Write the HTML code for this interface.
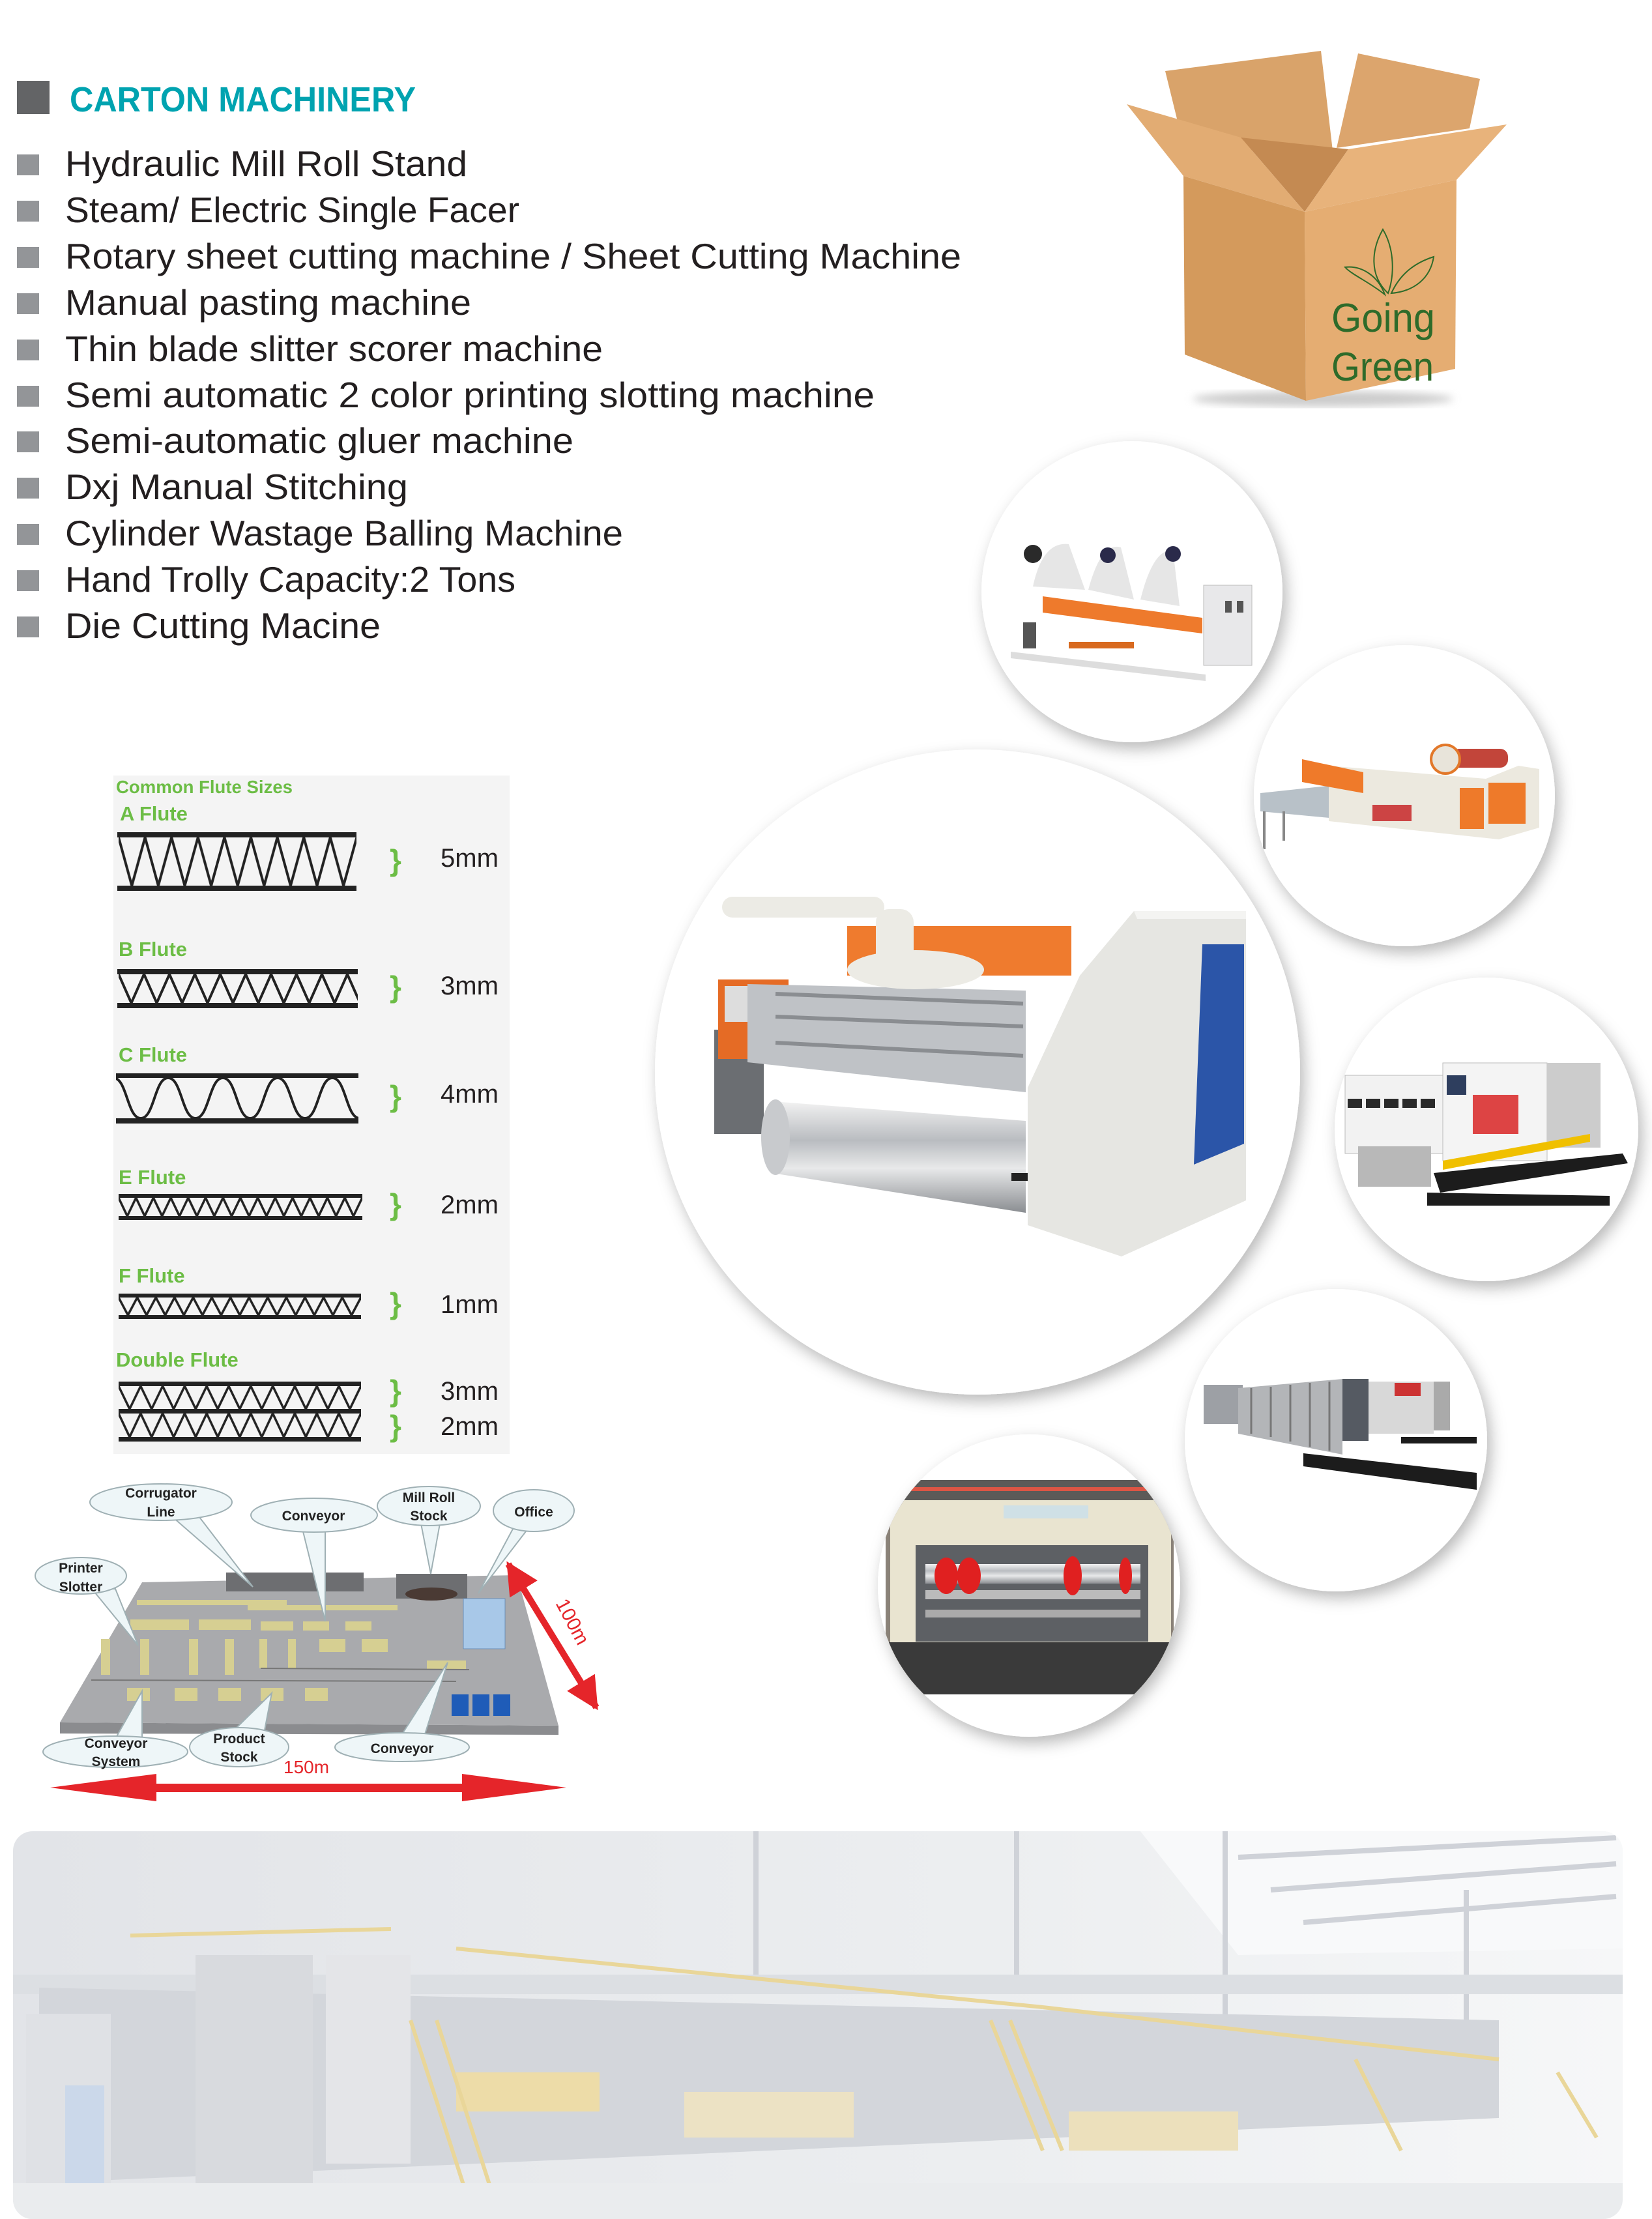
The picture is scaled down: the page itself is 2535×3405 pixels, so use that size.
<!DOCTYPE html>
<html><head><meta charset="utf-8"><style>html,body{margin:0;padding:0;background:#fff}svg{display:block}</style></head>
<body>
<svg xmlns="http://www.w3.org/2000/svg" width="2535" height="3405" viewBox="0 0 2535 3405" font-family="'Liberation Sans', sans-serif">
<defs>
<filter id="sh" x="-20%" y="-20%" width="140%" height="140%"><feDropShadow dx="6" dy="10" stdDeviation="12" flood-color="#000" flood-opacity="0.28"/></filter>
<filter id="bl"><feGaussianBlur stdDeviation="6"/></filter>
<clipPath id="c1"><circle cx="1737" cy="908" r="231"/></clipPath>
<clipPath id="c2"><circle cx="2155" cy="1221" r="231"/></clipPath>
<clipPath id="c3"><circle cx="1500" cy="1645" r="495"/></clipPath>
<clipPath id="c4"><circle cx="2281" cy="1733" r="233"/></clipPath>
<clipPath id="c5"><circle cx="2050" cy="2210" r="232"/></clipPath>
<clipPath id="c6"><circle cx="1579" cy="2433" r="232"/></clipPath>
<clipPath id="fac"><rect x="20" y="2810" width="2470" height="595" rx="30"/></clipPath>
<linearGradient id="silver" x1="0" y1="0" x2="0" y2="1"><stop offset="0" stop-color="#f2f2f2"/><stop offset=".35" stop-color="#b9bcc0"/><stop offset=".6" stop-color="#e8e9ea"/><stop offset="1" stop-color="#8a8d91"/></linearGradient>
<linearGradient id="facg" x1="0" y1="0" x2="1" y2="0"><stop offset="0" stop-color="#e2e4e8"/><stop offset=".6" stop-color="#eceef0"/><stop offset="1" stop-color="#f6f7f8"/></linearGradient>
<pattern id="pA" patternUnits="userSpaceOnUse" x="182" y="1285" width="40.6" height="74"><path d="M0,0 L20.3,74 L40.6,0" fill="none" stroke="#222" stroke-width="4"/></pattern>
<pattern id="pB" patternUnits="userSpaceOnUse" x="182" y="1495" width="39" height="44"><path d="M0,0 L19.5,44 L39,0" fill="none" stroke="#222" stroke-width="4"/></pattern>
<pattern id="pC" patternUnits="userSpaceOnUse" x="174" y="1654" width="84" height="62"><path d="M0,0 C21,0 21,62 42,62 C63,62 63,0 84,0" fill="none" stroke="#222" stroke-width="4"/></pattern>
<pattern id="pE" patternUnits="userSpaceOnUse" x="182" y="1838" width="26.7" height="28"><path d="M0,0 L13.3,28 L26.7,0" fill="none" stroke="#222" stroke-width="3.5"/></pattern>
<pattern id="pF" patternUnits="userSpaceOnUse" x="182" y="1991" width="28.6" height="27"><path d="M0,0 L14.3,27 L28.6,0" fill="none" stroke="#222" stroke-width="3.5"/></pattern>
<pattern id="pD1" patternUnits="userSpaceOnUse" x="182" y="2127" width="33.8" height="35"><path d="M0,0 L16.9,35 L33.8,0" fill="none" stroke="#222" stroke-width="3.5"/></pattern>
<pattern id="pD2" patternUnits="userSpaceOnUse" x="182" y="2169" width="33.8" height="36"><path d="M0,0 L16.9,36 L33.8,0" fill="none" stroke="#222" stroke-width="3.5"/></pattern>
<marker id="ah" viewBox="0 0 10 10" refX="9" refY="5" markerWidth="5" markerHeight="5" orient="auto-start-reverse"><path d="M0,0 L10,5 L0,10 z" fill="#e5252a"/></marker>
</defs>

<!-- Header -->
<rect x="26" y="124" width="50" height="51" fill="#636466"/>
<text x="107" y="171" font-size="54" font-weight="bold" fill="#00a3b0" textLength="531" lengthAdjust="spacingAndGlyphs">CARTON MACHINERY</text>
<g fill="#939598">
<rect x="26" y="237" width="34" height="32"/><rect x="26" y="308" width="34" height="32"/><rect x="26" y="379" width="34" height="32"/><rect x="26" y="450" width="34" height="32"/><rect x="26" y="521" width="34" height="32"/><rect x="26" y="592" width="34" height="32"/><rect x="26" y="662" width="34" height="32"/><rect x="26" y="733" width="34" height="32"/><rect x="26" y="804" width="34" height="32"/><rect x="26" y="875" width="34" height="32"/><rect x="26" y="946" width="34" height="32"/>
</g>
<g font-size="55" fill="#231f20">
<text x="100" y="270" textLength="617" lengthAdjust="spacingAndGlyphs">Hydraulic Mill Roll Stand</text>
<text x="100" y="341" textLength="697" lengthAdjust="spacingAndGlyphs">Steam/ Electric Single Facer</text>
<text x="100" y="412" textLength="1375" lengthAdjust="spacingAndGlyphs">Rotary sheet cutting machine / Sheet Cutting Machine</text>
<text x="100" y="483" textLength="623" lengthAdjust="spacingAndGlyphs">Manual pasting machine</text>
<text x="100" y="554" textLength="825" lengthAdjust="spacingAndGlyphs">Thin blade slitter scorer machine</text>
<text x="100" y="625" textLength="1242" lengthAdjust="spacingAndGlyphs">Semi automatic 2 color printing slotting machine</text>
<text x="100" y="695" textLength="780" lengthAdjust="spacingAndGlyphs">Semi-automatic gluer machine</text>
<text x="100" y="766" textLength="526" lengthAdjust="spacingAndGlyphs">Dxj Manual Stitching</text>
<text x="100" y="837" textLength="856" lengthAdjust="spacingAndGlyphs">Cylinder Wastage Balling Machine</text>
<text x="100" y="908" textLength="691" lengthAdjust="spacingAndGlyphs">Hand Trolly Capacity:2 Tons</text>
<text x="100" y="979" textLength="484" lengthAdjust="spacingAndGlyphs">Die Cutting Macine</text>
</g>

<!-- Box -->
<ellipse cx="2030" cy="612" rx="200" ry="12" fill="#ccc" filter="url(#bl)"/>
<polygon points="1788,109 2027,78 2045,231 1818,231" fill="#d9a36a"/>
<polygon points="2084,82 2271,121 2255,197 2051,227" fill="#dca56d"/>
<polygon points="1904,211 2069,229 2002,325" fill="#c48a52"/>
<polygon points="1729,160 1904,211 2002,325 1816,270" fill="#e2ac73"/>
<polygon points="2002,325 2069,229 2312,191 2235,276" fill="#e8b37b"/>
<polygon points="1816,270 2002,325 2004,615 1818,544" fill="#d49a5c"/>
<polygon points="2002,325 2235,276 2233,566 2004,615" fill="#e5ad72"/>
<g fill="none" stroke="#2e6b2a" stroke-width="2" transform="translate(0,-38)">
<path d="M2130,488 C2100,460 2105,420 2122,390 C2140,420 2140,460 2130,488 Z"/>
<path d="M2135,488 C2150,455 2175,440 2200,432 C2195,465 2170,485 2135,488 Z"/>
<path d="M2125,490 C2100,470 2075,460 2064,448 C2090,445 2115,462 2125,490 Z"/>
</g>
<text x="2043" y="509" font-size="62" fill="#2e6b2a" textLength="159" lengthAdjust="spacingAndGlyphs">Going</text>
<text x="2043" y="584" font-size="62" fill="#2e6b2a" textLength="157" lengthAdjust="spacingAndGlyphs">Green</text>

<!-- Circles backgrounds -->
<g fill="#fff" filter="url(#sh)">
<circle cx="1737" cy="908" r="231"/>
<circle cx="2155" cy="1221" r="231"/>
<circle cx="2281" cy="1733" r="233"/>
<circle cx="2050" cy="2210" r="232"/>
<circle cx="1579" cy="2433" r="232"/>
<circle cx="1500" cy="1645" r="495"/>
</g>

<!-- Circle 1 -->
<g clip-path="url(#c1)">
<polygon points="1551,1000 1850,1035 1850,1045 1551,1010" fill="#ddd"/>
<polygon points="1600,915 1845,948 1845,972 1600,940" fill="#ee7a2c"/>
<path d="M1585,900 Q1600,830 1640,835 L1665,905 Z" fill="#e6e6e6"/>
<path d="M1670,905 Q1690,830 1720,840 L1740,920 Z" fill="#e6e6e6"/>
<path d="M1750,920 Q1770,840 1800,845 L1810,930 Z" fill="#e6e6e6"/>
<circle cx="1585" cy="850" r="14" fill="#2a2a2a"/>
<circle cx="1700" cy="852" r="12" fill="#2a2a4a"/>
<circle cx="1800" cy="850" r="12" fill="#2a2a4a"/>
<rect x="1570" y="955" width="20" height="40" fill="#555"/>
<rect x="1847" y="898" width="74" height="123" fill="#e8e8ea" stroke="#bbb"/>
<rect x="1880" y="922" width="10" height="18" fill="#555"/><rect x="1898" y="922" width="10" height="18" fill="#555"/>
<rect x="1640" y="985" width="100" height="10" fill="#d86a20"/>
</g>

<!-- Circle 2 -->
<g clip-path="url(#c2)">
<polygon points="1934,1217 2092,1200 2092,1260 1934,1245" fill="#b8c1c8"/>
<line x1="1940" y1="1245" x2="1940" y2="1303" stroke="#888" stroke-width="4"/>
<line x1="1970" y1="1245" x2="1970" y2="1290" stroke="#888" stroke-width="4"/>
<polygon points="2039,1175 2280,1195 2330,1175 2362,1180 2362,1270 2300,1288 2039,1260" fill="#ece9df"/>
<polygon points="1998,1165 2092,1185 2092,1217 1998,1200" fill="#ef7a2a"/>
<rect x="2227" y="1149" width="87" height="29" rx="12" fill="#c2453a"/>
<circle cx="2218" cy="1165" r="22" fill="#e8e4da" stroke="#e2782a" stroke-width="4"/>
<rect x="2240" y="1209" width="37" height="63" fill="#ee7a2a"/>
<rect x="2284" y="1201" width="57" height="63" fill="#ee7a2a"/>
<rect x="2106" y="1235" width="60" height="25" fill="#c44"/>
</g>

<!-- Circle 3 -->
<g clip-path="url(#c3)">
<rect x="1300" y="1421" width="344" height="76" fill="#ef7b2e"/>
<rect x="1096" y="1580" width="76" height="160" fill="#6b6e72"/>
<rect x="1102" y="1503" width="108" height="122" fill="#e56b25"/>
<rect x="1112" y="1513" width="35" height="55" fill="#ddd"/>
<polygon points="1147,1510 1574,1520 1574,1676 1147,1630" fill="#bfc2c6"/>
<g stroke="#8a8d91" stroke-width="6">
<line x1="1190" y1="1525" x2="1570" y2="1540"/><line x1="1190" y1="1560" x2="1570" y2="1575"/><line x1="1190" y1="1600" x2="1570" y2="1620"/>
</g>
<rect x="1108" y="1376" width="249" height="32" rx="16" fill="#ecebe5"/>
<rect x="1344" y="1395" width="58" height="90" rx="20" fill="#ecebe5"/>
<ellipse cx="1405" cy="1488" rx="105" ry="30" fill="#ecebe5"/>
<polygon points="1185,1690 1574,1720 1574,1861 1185,1800" fill="url(#silver)"/>
<ellipse cx="1190" cy="1745" rx="22" ry="58" fill="#c8cacd"/>
<polygon points="1577,1669 1657,1497 1740,1398 1912,1398 1912,1842 1721,1928 1577,1880" fill="#e6e6e2"/>
<polygon points="1740,1398 1912,1398 1912,1410 1745,1410" fill="#f4f4f2"/>
<polygon points="1845,1449 1909,1449 1909,1755 1832,1787" fill="#2b55a8"/>
<rect x="1552" y="1800" width="25" height="12" fill="#222"/>
</g>

<!-- Circle 4 -->
<g clip-path="url(#c4)">
<polygon points="2200,1800 2490,1770 2498,1785 2210,1830" fill="#1c1c1c"/>
<polygon points="2190,1830 2470,1835 2470,1850 2190,1850" fill="#1c1c1c"/>
<rect x="2064" y="1650" width="150" height="120" fill="#f2f2f2" stroke="#bbb"/>
<g fill="#2a2a2a"><rect x="2068" y="1686" width="22" height="14"/><rect x="2096" y="1686" width="22" height="14"/><rect x="2124" y="1686" width="22" height="14"/><rect x="2152" y="1686" width="22" height="14"/><rect x="2180" y="1686" width="22" height="14"/></g>
<rect x="2084" y="1759" width="112" height="62" fill="#b8b8b8"/>
<rect x="2214" y="1631" width="160" height="150" fill="#f4f4f4" stroke="#bbb"/>
<rect x="2220" y="1650" width="30" height="30" fill="#2e3e5e"/>
<rect x="2260" y="1680" width="70" height="60" fill="#d44"/>
<rect x="2374" y="1631" width="82" height="130" fill="#ccc"/>
<polygon points="2214,1781 2440,1740 2440,1752 2214,1795" fill="#f0c000"/>
</g>

<!-- Circle 5 -->
<g clip-path="url(#c5)">
<polygon points="2000,2230 2266,2260 2266,2286 2000,2250" fill="#1c1c1c"/>
<rect x="2150" y="2205" width="116" height="10" fill="#1c1c1c"/>
<rect x="1847" y="2125" width="60" height="60" fill="#9da0a5"/>
<polygon points="1900,2130 2060,2116 2060,2232 1900,2200" fill="#b3b5b8"/>
<g stroke="#777" stroke-width="3"><line x1="1920" y1="2130" x2="1920" y2="2200"/><line x1="1950" y1="2128" x2="1950" y2="2205"/><line x1="1980" y1="2125" x2="1980" y2="2212"/><line x1="2010" y1="2122" x2="2010" y2="2220"/><line x1="2040" y1="2120" x2="2040" y2="2226"/></g>
<rect x="2060" y="2116" width="40" height="95" fill="#555a62"/>
<rect x="2100" y="2120" width="100" height="80" fill="#d8d8d8"/>
<rect x="2140" y="2122" width="40" height="20" fill="#c33"/>
<rect x="2200" y="2120" width="25" height="75" fill="#aaa"/>
</g>

<!-- Circle 6 -->
<g clip-path="url(#c6)">
<rect x="1359" y="2271" width="442" height="329" fill="#8a8278"/>
<rect x="1359" y="2271" width="442" height="40" fill="#5c5a58"/>
<line x1="1380" y1="2285" x2="1780" y2="2285" stroke="#d54" stroke-width="6"/>
<rect x="1366" y="2302" width="431" height="279" fill="#e9e4d0"/>
<rect x="1540" y="2310" width="130" height="20" fill="#cfe0e6"/>
<rect x="1405" y="2371" width="357" height="148" fill="#5d6064"/>
<rect x="1420" y="2400" width="330" height="30" fill="url(#silver)"/>
<rect x="1420" y="2440" width="330" height="14" fill="#bbb"/>
<rect x="1420" y="2470" width="330" height="12" fill="#aaa"/>
<ellipse cx="1452" cy="2418" rx="18" ry="28" fill="#e02020"/>
<ellipse cx="1487" cy="2418" rx="18" ry="28" fill="#e02020"/>
<ellipse cx="1646" cy="2418" rx="14" ry="30" fill="#e02020"/>
<ellipse cx="1727" cy="2418" rx="10" ry="28" fill="#e02020"/>
<rect x="1359" y="2520" width="442" height="80" fill="#3a3a3a"/>
</g>

<!-- Flute panel -->
<rect x="174" y="1190" width="608" height="1041" fill="#f4f4f4"/>
<g font-weight="bold" fill="#6cbd45">
<text x="178" y="1217" font-size="28" textLength="271" lengthAdjust="spacingAndGlyphs">Common Flute Sizes</text>
<text x="184" y="1259" font-size="31">A Flute</text>
<text x="182" y="1467" font-size="31">B Flute</text>
<text x="182" y="1629" font-size="31">C Flute</text>
<text x="182" y="1817" font-size="31">E Flute</text>
<text x="182" y="1968" font-size="31">F Flute</text>
<text x="178" y="2097" font-size="31">Double Flute</text>
</g>
<g fill="#222">
<rect x="180" y="1277" width="367" height="8"/><rect x="180" y="1359" width="367" height="8"/>
<rect x="180" y="1487" width="369" height="8"/><rect x="180" y="1539" width="369" height="8"/>
<rect x="178" y="1647" width="372" height="7"/><rect x="178" y="1716" width="372" height="8"/>
<rect x="182" y="1832" width="374" height="6"/><rect x="182" y="1866" width="374" height="6"/>
<rect x="182" y="1985" width="372" height="6"/><rect x="182" y="2018" width="372" height="6"/>
<rect x="182" y="2120" width="372" height="7"/><rect x="182" y="2162" width="372" height="7"/><rect x="182" y="2205" width="372" height="7"/>
</g>
<rect x="182" y="1285" width="365" height="74" fill="url(#pA)"/>
<rect x="182" y="1495" width="367" height="44" fill="url(#pB)"/>
<rect x="178" y="1654" width="372" height="62" fill="url(#pC)"/>
<rect x="182" y="1838" width="374" height="28" fill="url(#pE)"/>
<rect x="182" y="1991" width="372" height="27" fill="url(#pF)"/>
<rect x="182" y="2127" width="372" height="35" fill="url(#pD1)"/>
<rect x="182" y="2169" width="372" height="36" fill="url(#pD2)"/>
<g fill="#6cbd45" font-size="46" font-weight="bold">
<text x="598" y="1336">}</text><text x="598" y="1530">}</text><text x="598" y="1698">}</text><text x="598" y="1864">}</text><text x="598" y="2016">}</text><text x="598" y="2150">}</text><text x="598" y="2204">}</text>
</g>
<g fill="#231f20" font-size="40">
<text x="676" y="1330">5mm</text><text x="676" y="1526">3mm</text><text x="676" y="1692">4mm</text><text x="676" y="1862">2mm</text><text x="676" y="2015">1mm</text><text x="676" y="2148">3mm</text><text x="676" y="2202">2mm</text>
</g>

<!-- Layout diagram -->
<polygon points="92,2643 857,2648 857,2662 92,2660" fill="#8b8c8f"/>
<polygon points="218,2428 793,2417 857,2648 92,2643" fill="#a9aaad"/>
<rect x="347" y="2413" width="211" height="29" fill="#6d6e71"/>
<rect x="608" y="2415" width="109" height="38" fill="#6d6e71"/>
<ellipse cx="662" cy="2446" rx="40" ry="10" fill="#4a3a34"/>
<rect x="711" y="2453" width="64" height="77" fill="#a8c8e8" stroke="#6b8fb8"/>
<g fill="#1f5cb8"><rect x="693" y="2600" width="26" height="33"/><rect x="725" y="2600" width="26" height="33"/><rect x="757" y="2600" width="26" height="33"/></g>
<g fill="#d6cf92">
<rect x="210" y="2455" width="230" height="8"/><rect x="380" y="2463" width="230" height="8"/>
<rect x="200" y="2485" width="90" height="16"/><rect x="305" y="2485" width="80" height="16"/><rect x="400" y="2488" width="50" height="14"/><rect x="465" y="2488" width="40" height="14"/><rect x="530" y="2488" width="40" height="14"/>
<rect x="155" y="2515" width="14" height="55"/><rect x="215" y="2515" width="14" height="55"/><rect x="290" y="2515" width="14" height="55"/><rect x="345" y="2515" width="14" height="55"/><rect x="398" y="2515" width="12" height="45"/><rect x="442" y="2515" width="12" height="45"/>
<rect x="195" y="2590" width="35" height="20"/><rect x="268" y="2590" width="35" height="20"/><rect x="335" y="2590" width="35" height="20"/><rect x="400" y="2590" width="35" height="20"/><rect x="468" y="2590" width="35" height="20"/>
<rect x="490" y="2515" width="40" height="20"/><rect x="555" y="2515" width="40" height="20"/><rect x="655" y="2548" width="60" height="14"/>
</g>
<g stroke="#777" stroke-width="2"><line x1="140" y1="2578" x2="700" y2="2580"/><line x1="400" y1="2560" x2="720" y2="2562"/></g>
<g fill="#eef6f8" stroke="#9fb0b4" stroke-width="2">
<polygon points="265,2328 306,2328 388,2435"/>
<polygon points="464,2346 499,2346 499,2488"/>
<polygon points="646,2338 675,2338 661,2415"/>
<polygon points="787,2346 810,2346 734,2445"/>
<polygon points="141,2438 177,2438 212,2525"/>
<polygon points="177,2668 218,2668 218,2595"/>
<polygon points="359,2655 406,2655 417,2598"/>
<polygon points="617,2661 652,2661 687,2551"/>
<ellipse cx="247" cy="2305" rx="109" ry="28"/>
<ellipse cx="482" cy="2325" rx="97" ry="26"/>
<ellipse cx="658" cy="2311" rx="79" ry="30"/>
<ellipse cx="819" cy="2318" rx="62" ry="32"/>
<ellipse cx="124" cy="2418" rx="70" ry="28"/>
<ellipse cx="177" cy="2688" rx="111" ry="24"/>
<ellipse cx="367" cy="2681" rx="76" ry="30"/>
<ellipse cx="617" cy="2681" rx="103" ry="22"/>
</g>
<g font-size="21" font-weight="bold" fill="#222" text-anchor="middle">
<text x="247" y="2298">Corrugator</text><text x="247" y="2327">Line</text>
<text x="481" y="2333">Conveyor</text>
<text x="658" y="2305">Mill Roll</text><text x="658" y="2333">Stock</text>
<text x="819" y="2327">Office</text>
<text x="124" y="2413">Printer</text><text x="124" y="2442">Slotter</text>
<text x="178" y="2682">Conveyor</text><text x="178" y="2710">System</text>
<text x="367" y="2675">Product</text><text x="367" y="2703">Stock</text>
<text x="617" y="2690">Conveyor</text>
</g>
<rect x="200" y="2737" width="530" height="13" fill="#e5252a"/>
<polygon points="77,2743 240,2722 240,2764" fill="#e5252a"/>
<polygon points="869,2743 709,2722 709,2764" fill="#e5252a"/>
<text x="435" y="2721" font-size="28" fill="#e5252a">150m</text>
<line x1="780" y1="2400" x2="915" y2="2620" stroke="#e5252a" stroke-width="10" marker-start="url(#ah)" marker-end="url(#ah)"/>
<text x="0" y="0" font-size="30" fill="#e5252a" transform="translate(852,2460) rotate(62)">100m</text>

<!-- Factory photo -->
<g clip-path="url(#fac)">
<rect x="20" y="2810" width="2470" height="595" fill="url(#facg)"/>
<polygon points="1750,2810 2490,2810 2490,2990 1900,3000" fill="#f8f9fa"/>
<g stroke="#cfd2d8" stroke-width="8" fill="none">
<line x1="1900" y1="2850" x2="2480" y2="2820"/><line x1="1950" y1="2900" x2="2480" y2="2860"/><line x1="2000" y1="2950" x2="2480" y2="2910"/>
<line x1="1160" y1="2810" x2="1160" y2="3050"/><line x1="1560" y1="2810" x2="1560" y2="3050"/><line x1="1880" y1="2810" x2="1880" y2="3100"/><line x1="2250" y1="2900" x2="2250" y2="3200"/>
</g>
<rect x="20" y="3030" width="2470" height="30" fill="#dcdfe3"/>
<polygon points="60,3050 2300,3100 2300,3250 60,3350" fill="#d3d6db"/>
<rect x="40" y="3090" width="130" height="300" fill="#dfe1e5"/>
<rect x="100" y="3200" width="60" height="190" fill="#cbd8ea"/>
<rect x="300" y="3000" width="180" height="360" fill="#d8dade"/>
<rect x="500" y="3000" width="130" height="320" fill="#e4e5e8"/>
<rect x="1050" y="3210" width="260" height="70" fill="#ece2c4"/>
<rect x="700" y="3180" width="220" height="60" fill="#eddca8"/>
<rect x="1640" y="3240" width="260" height="60" fill="#ece0bc"/>
<g stroke="#e9d699" stroke-width="6" fill="none">
<line x1="200" y1="2970" x2="600" y2="2960"/><line x1="700" y1="2990" x2="1600" y2="3080"/><line x1="1600" y1="3080" x2="2300" y2="3160"/>
<line x1="630" y1="3100" x2="720" y2="3380"/><line x1="670" y1="3100" x2="760" y2="3380"/>
<line x1="1520" y1="3100" x2="1600" y2="3300"/><line x1="1550" y1="3100" x2="1630" y2="3300"/>
<line x1="2080" y1="3160" x2="2150" y2="3300"/><line x1="2390" y1="3180" x2="2450" y2="3280"/>
</g>
<rect x="20" y="3350" width="2470" height="60" fill="#eaecee"/>
</g>
</svg>
</body></html>
